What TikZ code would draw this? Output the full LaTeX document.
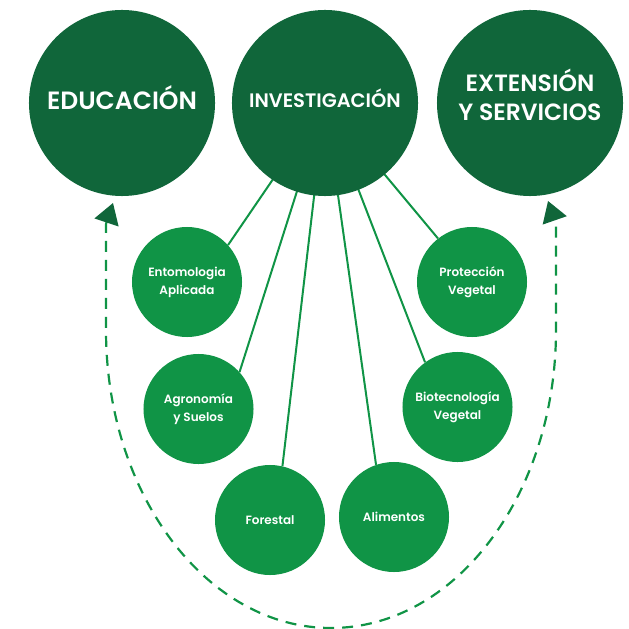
\documentclass[tikz,border=0pt]{standalone}
\usepackage{fontspec}
\setmainfont{Poppins}[UprightFont=* SemiBold]
\usetikzlibrary{arrows.meta,backgrounds}
\definecolor{darkgreen}{RGB}{16,102,58}
\definecolor{midgreen}{RGB}{16,148,70}

\begin{document}
\begin{tikzpicture}[scale=0.3514]
\tikzstyle{every node}+=[inner sep=0pt]
\tikzstyle{bigc}=[circle, fill=darkgreen, minimum size=186pt, text=white, align=center]
\tikzstyle{smallc}=[circle, fill=midgreen, minimum size=110pt, text=white, align=center, font=\fontsize{12}{18}\selectfont]
\tikzstyle{spoke}=[midgreen, line width=2pt]
\tikzstyle{feedback}=[midgreen, line width=2.2pt, dash pattern=on 11pt off 8pt, {Triangle[length=20.5pt,width=25pt,color=darkgreen]}-{Triangle[length=20.5pt,width=25pt,color=darkgreen]}]
\useasboundingbox (0,0) rectangle (62.8,-62.9);
\node [bigc, font=\fontsize{25}{30}\selectfont, text height=16pt, text depth=2pt] (educ) at (12.2,-10.3) {EDUCACIÓN};
\node [bigc, font=\fontsize{19.5}{24}\selectfont, text height=13.5pt, text depth=4pt] (inv) at (32.5,-10.3) {INVESTIGACIÓN};
\node [bigc, font=\fontsize{23.5}{29}\selectfont, text height=34.5pt, text depth=0pt] (ext) at (53.0,-10.3) {EXTENSIÓN\\Y SERVICIOS};
\node [smallc] (ento) at (18.7,-28.2) {Entomologia\\Aplicada};
\node [smallc] (prot) at (47.2,-28.2) {Protección\\Vegetal};
\node [smallc] (agro) at (19.85,-40.9) {Agronomía\\y Suelos};
\node [smallc] (biot) at (45.75,-40.7) {Biotecnología\\Vegetal};
\node [smallc] (fore) at (27.0,-52.0) {Forestal};
\node [smallc] (alim) at (39.4,-51.7) {Alimentos};
\begin{scope}[on background layer]
\draw [spoke] (inv.center) -- (ento.42);
\draw [spoke] (inv.center) -- (agro.42);
\draw [spoke] (inv.center) -- (fore.77);
\draw [spoke] (inv.center) -- (alim.109);
\draw [spoke] (inv.center) -- (biot.126);
\draw [spoke] (inv.center) -- (prot.128);
\end{scope}
\coordinate (tipl) at (11.3,-20.3);
\coordinate (tipr) at (54.8,-20.1);
\draw [feedback] (tipl) -- (10.6,-22.4) -- (10.6,-33.0) arc [start angle=180, end angle=360, x radius=22.5, y radius=29.8] -- (55.6,-22.4) -- (tipr);
\end{tikzpicture}
\end{document}
